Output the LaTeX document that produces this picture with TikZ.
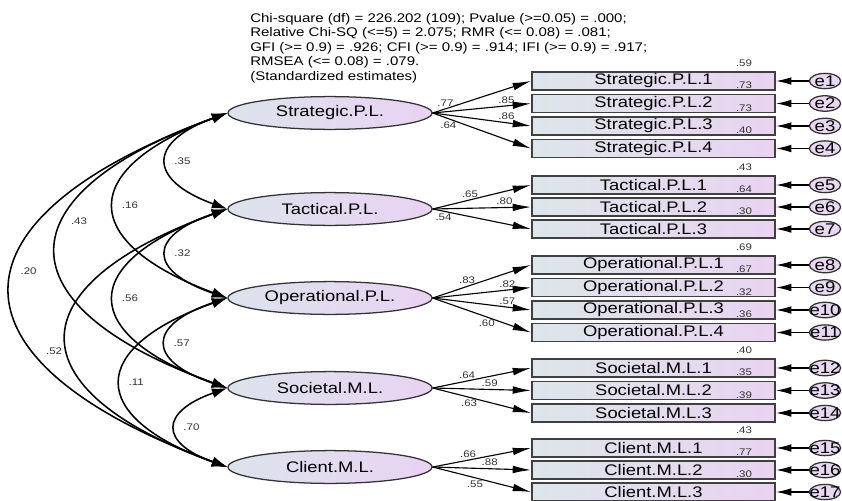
\documentclass[tikz,border=0pt]{standalone}
\usepackage{fontspec}
\setmainfont{Liberation Sans}[FakeStretch=1.2]
\usepackage{tikz}
\usetikzlibrary{arrows.meta,shapes.geometric}
\definecolor{latleft}{HTML}{DCE3EC}
\definecolor{latright}{HTML}{E9D3F2}
\definecolor{boxleft}{HTML}{DDE6EA}
\definecolor{boxright}{HTML}{E9D3F1}
\definecolor{errfill}{HTML}{E9D8F1}

\begin{document}
\begin{tikzpicture}[x=0.025cm,y=-0.025cm,
		latent/.style={ellipse, draw=black!80, line width=0.9pt, left color=latleft, right color=latright, minimum width=5.1cm, minimum height=0.82cm, inner sep=0pt, font=\fontsize{10.9}{12}\selectfont},
		obs/.style={rectangle, draw=black!75, line width=1.4pt, left color=boxleft, right color=boxright, minimum width=6.075cm, minimum height=0.45cm, inner sep=0pt, font=\fontsize{10.9}{12}\selectfont},
		err/.style={ellipse, draw=black!80, line width=0.9pt, fill=errfill, minimum width=0.78cm, minimum height=0.38cm, inner sep=0pt, font=\fontsize{11}{12}\selectfont},
		lbl/.style={inner sep=1.5pt, font=\fontsize{6.8}{8}\selectfont, text=black!80},
		load/.style={->, line width=0.8pt, >={Latex[length=13pt,width=5.5pt]}},
		erra/.style={->, line width=0.8pt, >={Latex[length=11pt,width=5.5pt]}},
		cov/.style={<->, line width=1.1pt, >={Latex[length=11pt,width=7pt]}}]
			\useasboundingbox (0,0) rectangle (842,500);
			\node[anchor=north west, align=left, inner sep=0pt, font=\fontsize{8.9}{10.3}\selectfont] (fit) at (250,13) {Chi-square (df) = 226.202 (109); Pvalue (>=0.05) = .000;\\Relative Chi-SQ (<=5) = 2.075; RMR (<= 0.08) = .081;\\GFI (>= 0.9) = .926; CFI (>= 0.9) = .914; IFI (>= 0.9) = .917;\\RMSEA (<= 0.08) = .079.\\(Standardized estimates)};

			\node[latent] (SPL) at (330,113) {Strategic.P.L.};
			\node[latent] (TPL) at (330,209) {Tactical.P.L.};
			\node[latent] (OPL) at (330,298) {Operational.P.L.};
			\node[latent] (SML) at (330,388) {Societal.M.L.};
			\node[latent] (CML) at (330,467) {Client.M.L.};

			\node[obs] (spl1) at (653.5,81) {Strategic.P.L.1};
			\node[obs] (spl2) at (653.5,103.5) {Strategic.P.L.2};
			\node[obs] (spl3) at (653.5,126) {Strategic.P.L.3};
			\node[obs] (spl4) at (653.5,148.5) {Strategic.P.L.4};
			\node[obs] (tpl1) at (653.5,185) {Tactical.P.L.1};
			\node[obs] (tpl2) at (653.5,207) {Tactical.P.L.2};
			\node[obs] (tpl3) at (653.5,229) {Tactical.P.L.3};
			\node[obs] (opl1) at (653.5,265) {Operational.P.L.1};
			\node[obs] (opl2) at (653.5,287.5) {Operational.P.L.2};
			\node[obs] (opl3) at (653.5,310) {Operational.P.L.3};
			\node[obs] (opl4) at (653.5,332.5) {Operational.P.L.4};
			\node[obs] (sml1) at (653.5,368) {Societal.M.L.1};
			\node[obs] (sml2) at (653.5,390.5) {Societal.M.L.2};
			\node[obs] (sml3) at (653.5,413) {Societal.M.L.3};
			\node[obs] (cml1) at (653.5,448) {Client.M.L.1};
			\node[obs] (cml2) at (653.5,470) {Client.M.L.2};
			\node[obs] (cml3) at (653.5,492) {Client.M.L.3};

			\node[err] (e1) at (825,81) {\makebox[0pt]{e1}};
			\node[err] (e2) at (825,103.5) {\makebox[0pt]{e2}};
			\node[err] (e3) at (825,126) {\makebox[0pt]{e3}};
			\node[err] (e4) at (825,148.5) {\makebox[0pt]{e4}};
			\node[err] (e5) at (825,185) {\makebox[0pt]{e5}};
			\node[err] (e6) at (825,207) {\makebox[0pt]{e6}};
			\node[err] (e7) at (825,229) {\makebox[0pt]{e7}};
			\node[err] (e8) at (825,265) {\makebox[0pt]{e8}};
			\node[err] (e9) at (825,287.5) {\makebox[0pt]{e9}};
			\node[err] (e10) at (825,310) {\makebox[0pt]{e10}};
			\node[err] (e11) at (825,332.5) {\makebox[0pt]{e11}};
			\node[err] (e12) at (825,368) {\makebox[0pt]{e12}};
			\node[err] (e13) at (825,390.5) {\makebox[0pt]{e13}};
			\node[err] (e14) at (825,413) {\makebox[0pt]{e14}};
			\node[err] (e15) at (825,448) {\makebox[0pt]{e15}};
			\node[err] (e16) at (825,470) {\makebox[0pt]{e16}};
			\node[err] (e17) at (825,492) {\makebox[0pt]{e17}};

			\draw[erra] (e1) -- (spl1);
			\draw[erra] (e2) -- (spl2);
			\draw[erra] (e3) -- (spl3);
			\draw[erra] (e4) -- (spl4);
			\draw[erra] (e5) -- (tpl1);
			\draw[erra] (e6) -- (tpl2);
			\draw[erra] (e7) -- (tpl3);
			\draw[erra] (e8) -- (opl1);
			\draw[erra] (e9) -- (opl2);
			\draw[erra] (e10) -- (opl3);
			\draw[erra] (e11) -- (opl4);
			\draw[erra] (e12) -- (sml1);
			\draw[erra] (e13) -- (sml2);
			\draw[erra] (e14) -- (sml3);
			\draw[erra] (e15) -- (cml1);
			\draw[erra] (e16) -- (cml2);
			\draw[erra] (e17) -- (cml3);

			\node[lbl] (r1) at ([xshift=-0.8cm,yshift=0.2cm]spl1.north east) {.59};
			\node[lbl] (r2) at ([xshift=-0.8cm,yshift=0.2cm]spl2.north east) {.73};
			\node[lbl] (r3) at ([xshift=-0.8cm,yshift=0.2cm]spl3.north east) {.73};
			\node[lbl] (r4) at ([xshift=-0.8cm,yshift=0.2cm]spl4.north east) {.40};
			\node[lbl] (r5) at ([xshift=-0.8cm,yshift=0.2cm]tpl1.north east) {.43};
			\node[lbl] (r6) at ([xshift=-0.8cm,yshift=0.2cm]tpl2.north east) {.64};
			\node[lbl] (r7) at ([xshift=-0.8cm,yshift=0.2cm]tpl3.north east) {.30};
			\node[lbl] (r8) at ([xshift=-0.8cm,yshift=0.2cm]opl1.north east) {.69};
			\node[lbl] (r9) at ([xshift=-0.8cm,yshift=0.2cm]opl2.north east) {.67};
			\node[lbl] (r10) at ([xshift=-0.8cm,yshift=0.2cm]opl3.north east) {.32};
			\node[lbl] (r11) at ([xshift=-0.8cm,yshift=0.2cm]opl4.north east) {.36};
			\node[lbl] (r12) at ([xshift=-0.8cm,yshift=0.2cm]sml1.north east) {.40};
			\node[lbl] (r13) at ([xshift=-0.8cm,yshift=0.2cm]sml2.north east) {.35};
			\node[lbl] (r14) at ([xshift=-0.8cm,yshift=0.2cm]sml3.north east) {.39};
			\node[lbl] (r15) at ([xshift=-0.8cm,yshift=0.2cm]cml1.north east) {.43};
			\node[lbl] (r16) at ([xshift=-0.8cm,yshift=0.2cm]cml2.north east) {.77};
			\node[lbl] (r17) at ([xshift=-0.8cm,yshift=0.2cm]cml3.north east) {.30};

			\draw[load] (SPL.east) -- node[lbl,pos=0.13,above] {.77} (spl1.west);
			\draw[load] (SPL.east) -- node[lbl,pos=0.75,above] {.85} (spl2.west);
			\draw[load] (SPL.east) -- node[lbl,pos=0.75,above] {.86} (spl3.west);
			\draw[load] (SPL.east) -- node[lbl,pos=0.16,below] {.64} (spl4.west);
			\draw[load] (TPL.east) -- node[lbl,pos=0.38,above] {.65} (tpl1.west);
			\draw[load] (TPL.east) -- node[lbl,pos=0.73,above] {.80} (tpl2.west);
			\draw[load] (TPL.east) -- node[lbl,pos=0.11,below] {.54} (tpl3.west);
			\draw[load] (OPL.east) -- node[lbl,pos=0.35,above] {.83} (opl1.west);
			\draw[load] (OPL.east) -- node[lbl,pos=0.76,above] {.82} (opl2.west);
			\draw[load] (OPL.east) -- node[lbl,pos=0.76,above] {.57} (opl3.west);
			\draw[load] (OPL.east) -- node[lbl,pos=0.55,below] {.60} (opl4.west);
			\draw[load] (SML.east) -- node[lbl,pos=0.35,above] {.64} (sml1.west);
			\draw[load] (SML.east) -- node[lbl,pos=0.58,above] {.59} (sml2.west);
			\draw[load] (SML.east) -- node[lbl,pos=0.37,below] {.63} (sml3.west);
			\draw[load] (CML.east) -- node[lbl,pos=0.36,above] {.66} (cml1.west);
			\draw[load] (CML.east) -- node[lbl,pos=0.58,above] {.88} (cml2.west);
			\draw[load] (CML.east) -- node[lbl,pos=0.43,below] {.55} (cml3.west);

			\draw[cov] (SPL.west) .. controls +(-80,29) and +(-80,-29) .. node[lbl,right=3pt] {.35} (TPL.west);
			\draw[cov] (TPL.west) .. controls +(-80,27) and +(-80,-27) .. node[lbl,right=3pt] {.32} (OPL.west);
			\draw[cov] (OPL.west) .. controls +(-81,27) and +(-81,-27) .. node[lbl,right=3pt] {.57} (SML.west);
			\draw[cov] (SML.west) .. controls +(-68,24) and +(-68,-24) .. node[lbl,right=3pt] {.70} (CML.west);
			\draw[cov] (SPL.west) .. controls +(-150,56) and +(-150,-56) .. node[lbl,right=3pt] {.16} (OPL.west);
			\draw[cov] (TPL.west) .. controls +(-150,54) and +(-150,-54) .. node[lbl,right=3pt] {.56} (SML.west);
			\draw[cov] (OPL.west) .. controls +(-141,50) and +(-141,-50) .. node[lbl,right=3pt] {.11} (CML.west);
			\draw[cov] (SPL.west) .. controls +(-227,82) and +(-227,-82) .. node[lbl,pos=0.4,right=3pt] {.43} (SML.west);
			\draw[cov] (TPL.west) .. controls +(-213,77) and +(-213,-77) .. node[lbl,pos=0.55,left=3pt] {.52} (CML.west);
			\draw[cov] (SPL.west) .. controls +(-288,106) and +(-288,-106) .. node[lbl,pos=0.45,right=3pt] {.20} (CML.west);
		\end{tikzpicture}
\end{document}
